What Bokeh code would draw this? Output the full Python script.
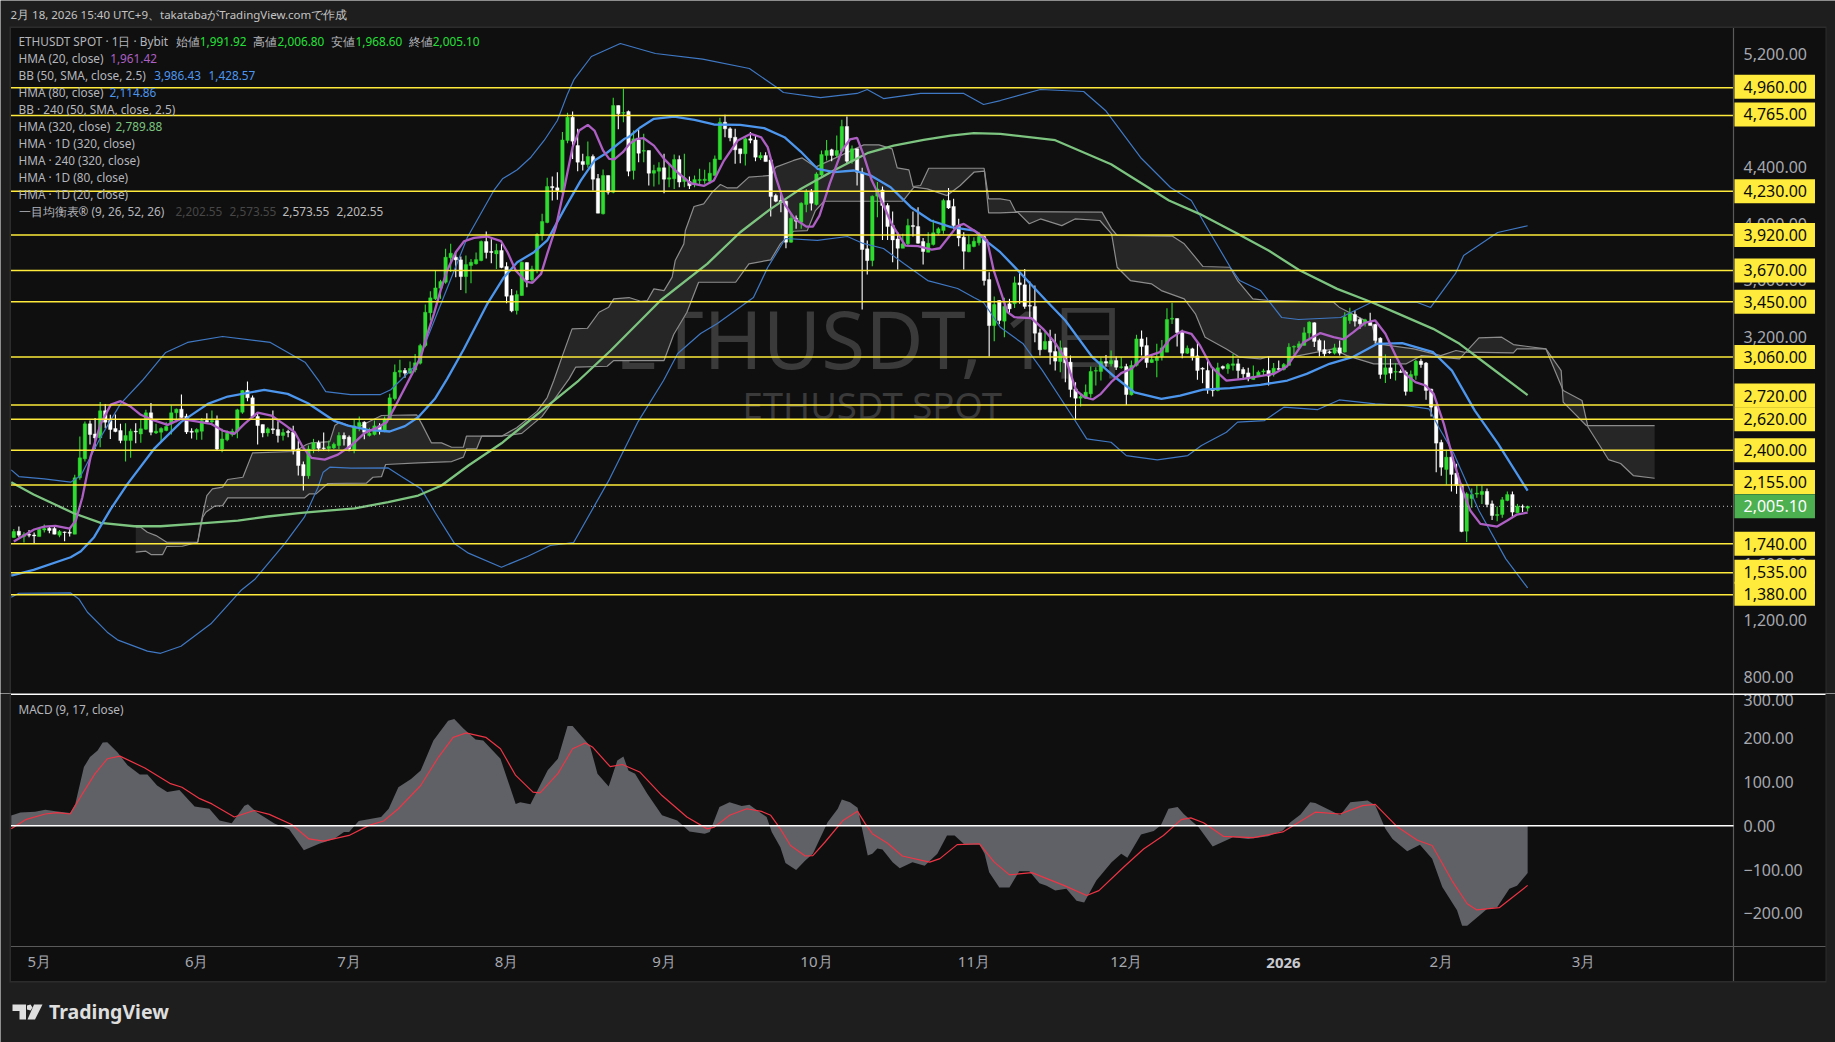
from bokeh.plotting import figure
from bokeh.layouts import column
from bokeh.models import (Range1d, FixedTicker, NumeralTickFormatter, Label, BoxAnnotation,
                          PolyAnnotation, ColumnDataSource)
from bokeh.embed import file_html
from bokeh.resources import INLINE

opens = [1784,1829,1791,1808,1803,1791,1838,1850,1848,1801,
1824,1822,1808,2206,2340,2587,2516,2488,2679,2611,
2554,2540,2469,2469,2535,2516,2549,2665,2523,2528,
2540,2587,2665,2691,2641,2535,2528,2535,2611,2601,
2611,2410,2474,2512,2535,2669,2822,2771,2639,2582,
2523,2552,2547,2505,2533,2528,2410,2300,2220,2410,
2453,2417,2413,2417,2434,2505,2493,2403,2568,2599,
2505,2512,2573,2535,2622,2765,2952,2964,2945,2968,
3015,3140,3371,3470,3545,3587,3760,3764,3745,3627,
3705,3717,3740,3875,3804,3787,3811,3698,3493,3387,
3493,3726,3604,3670,3917,4009,4263,4254,4223,4587,
4752,4552,4440,4418,4475,4319,4070,4341,4223,4835,
4781,4792,4376,4592,4512,4517,4357,4371,4395,4315,
4317,4454,4298,4298,4286,4305,4305,4301,4341,4454,
4717,4670,4611,4529,4494,4600,4592,4465,4482,4451,
4199,4164,4159,3870,4039,4011,4136,4223,4136,4345,
4482,4522,4482,4512,4687,4442,4529,4364,3823,3740,
4195,4239,4129,3987,3893,3827,3858,3987,3980,3875,
3799,3853,3933,3952,4164,4122,3983,3905,3802,3839,
3865,3910,3606,3281,3458,3312,3435,3435,3583,3569,
3423,3416,3230,3114,3171,3098,3027,3124,3023,2834,
2768,2768,2799,2959,2957,3027,3011,3034,2985,2992,
2792,3000,3187,3140,3020,3034,3063,3093,3326,3331,
3239,3086,3117,3067,2980,2964,2834,2822,2992,2976,
3000,3011,2971,2947,2900,2921,2954,2964,2940,2978,
2971,3000,3129,3124,3141,3228,3301,3176,3112,3096,
3086,3124,3094,3317,3359,3324,3301,3305,3289,3192,
2936,2983,2952,2957,2952,2816,2929,3030,3016,2832,
2710,2456,2265,2352,2239,2157,1829,2060,2091,2088,
2110,2022,1940,1947,2046,2088,1959,2004,1991.92]
highs = [1845,1862,1822,1838,1820,1845,1876,1862,1862,1838,
1827,1845,2227,2498,2604,2611,2629,2742,2728,2651,
2653,2587,2592,2552,2592,2622,2686,2735,2587,2563,
2599,2716,2695,2794,2658,2556,2556,2629,2662,2681,
2646,2552,2540,2552,2693,2827,2886,2787,2658,2582,
2563,2681,2606,2552,2545,2573,2469,2321,2434,2481,
2469,2526,2469,2455,2528,2526,2505,2620,2639,2606,
2559,2611,2592,2639,2799,3006,3039,2982,3027,3081,
3152,3430,3524,3674,3604,3823,3858,3799,3769,3776,
3752,3797,3882,3945,3891,3858,3858,3729,3540,3528,
3733,3729,3703,3933,4070,4324,4333,4364,4647,4783,
4792,4670,4494,4581,4489,4352,4383,4341,4889,4835,
4955,4800,4658,4663,4635,4517,4416,4435,4494,4423,
4489,4482,4494,4334,4340,4388,4381,4435,4482,4748,
4769,4682,4670,4529,4611,4647,4623,4505,4505,4458,
4211,4211,4164,4070,4058,4152,4246,4246,4364,4517,
4592,4529,4623,4734,4757,4552,4529,4395,3882,4199,
4294,4263,4145,4086,3940,3929,4035,4086,4117,3900,
3940,4028,3976,4176,4253,4176,4035,3940,3917,3905,
3940,3917,3658,3486,3460,3477,3470,3628,3658,3680,
3592,3564,3258,3234,3251,3223,3176,3124,3070,2881,
2799,2865,2992,2987,3053,3074,3105,3063,3058,3011,
3034,3216,3246,3199,3074,3152,3180,3404,3442,3331,
3251,3140,3124,3171,2987,3034,2987,3018,2999,3016,
3081,3046,2987,2983,2999,2964,2976,3063,3016,3035,
3016,3157,3141,3171,3270,3312,3305,3188,3176,3105,
3152,3176,3376,3407,3388,3336,3329,3371,3294,3199,
3077,3046,3016,2971,2964,2964,3039,3046,3023,2835,
2717,2474,2404,2376,2305,2164,2105,2131,2152,2152,
2131,2046,2004,2070,2110,2110,2022,2018,2006.80]
lows = [1782,1787,1749,1787,1740,1791,1820,1815,1808,1787,
1758,1791,1808,2192,2321,2441,2410,2422,2556,2481,
2528,2450,2321,2347,2450,2453,2545,2507,2516,2465,
2535,2512,2599,2622,2516,2483,2474,2474,2587,2587,
2403,2387,2465,2498,2486,2658,2747,2629,2441,2493,
2498,2516,2455,2469,2493,2370,2222,2116,2199,2380,
2394,2399,2392,2410,2410,2434,2394,2380,2535,2479,
2498,2505,2512,2528,2615,2752,2916,2912,2940,2952,
3006,3128,3317,3462,3470,3576,3660,3623,3533,3510,
3580,3712,3736,3754,3722,3681,3686,3439,3375,3359,
3491,3552,3587,3651,3881,4004,4164,4169,4211,4569,
4458,4371,4376,4395,4235,4075,4065,4206,4216,4668,
4717,4336,4312,4435,4435,4270,4263,4277,4216,4258,
4246,4258,4258,4246,4258,4270,4282,4282,4341,4451,
4611,4583,4423,4428,4411,4569,4442,4451,4439,4051,
4152,4082,3827,3865,3964,3964,4082,4093,4129,4334,
4446,4442,4470,4505,4428,4423,4270,3394,3641,3700,
4046,3886,3886,3728,3677,3827,3846,3910,3858,3712,
3799,3846,3924,3929,4105,3964,3842,3677,3799,3834,
3846,3564,3062,3171,3290,3199,3369,3406,3435,3399,
3340,3164,3070,3110,3006,2964,2952,2881,2775,2622,
2710,2764,2771,2858,2893,2992,2992,2968,2976,2721,
2787,2992,3070,2983,3016,2917,3034,3093,3293,3133,
3051,3081,3034,2898,2874,2799,2780,2818,2971,2940,
2964,2905,2898,2888,2898,2921,2928,2858,2922,2964,
2964,3000,3077,3124,3141,3192,3129,3063,3063,3082,
3077,3070,3091,3294,3275,3258,3275,3282,3152,2905,
2875,2905,2893,2948,2787,2813,2898,2983,2757,2639,
2246,2220,2159,2110,2093,1822,1752,1994,2065,2022,
1999,1909,1900,1924,2041,1928,1957,1964,1968.60]
closes = [1827,1801,1805,1801,1796,1841,1848,1834,1808,1827,
1820,1815,2206,2347,2587,2512,2488,2679,2599,2547,
2533,2469,2505,2535,2530,2552,2665,2528,2535,2554,
2568,2665,2691,2632,2530,2528,2547,2611,2601,2611,
2410,2481,2521,2535,2686,2822,2771,2639,2575,2523,
2552,2545,2505,2526,2526,2403,2293,2220,2410,2453,
2415,2413,2427,2443,2505,2481,2410,2573,2596,2528,
2521,2573,2540,2622,2771,2952,2964,2945,2978,3018,
3140,3375,3477,3547,3592,3764,3792,3745,3627,3712,
3728,3747,3875,3797,3797,3811,3691,3488,3385,3500,
3728,3604,3681,3924,4016,4263,4254,4235,4592,4752,
4583,4435,4418,4475,4315,4075,4341,4223,4835,4776,
4785,4371,4600,4498,4517,4357,4376,4395,4315,4324,
4454,4294,4324,4268,4312,4312,4315,4357,4458,4717,
4670,4607,4522,4494,4600,4590,4470,4482,4439,4192,
4159,4150,3870,4039,4018,4145,4223,4145,4352,4489,
4517,4482,4517,4687,4442,4529,4364,3818,3740,4195,
4246,4129,3980,3886,3827,3858,3987,3980,3863,3804,
3863,3936,3964,4164,4112,3987,3900,3806,3853,3877,
3910,3599,3281,3430,3317,3416,3399,3583,3569,3416,
3418,3227,3110,3169,3093,3030,3124,3018,2830,2768,
2780,2811,2957,2964,3027,3016,3034,2987,2990,2794,
3000,3187,3133,3020,3041,3058,3124,3324,3333,3232,
3086,3121,3058,2964,2973,2827,2822,2983,2980,3006,
3011,2964,2940,2905,2921,2952,2961,2924,2980,2971,
3006,3129,3134,3152,3230,3305,3169,3105,3082,3089,
3124,3086,3341,3364,3312,3294,3322,3282,3176,2936,
2983,2945,2957,2950,2816,2936,3030,3006,2823,2705,
2451,2281,2352,2230,2152,1827,2093,2088,2098,2110,
2018,1940,1947,2051,2088,1964,2006,1999,2005.10]

hma20_x = [0,2,4,6,8.2,11,12.2,13.5,15.1,17.1,19.1,21,23,25,27.6,30.3,32.9,36.2,38.8,41.1,43.4,45.4,48,50.7,53.3,55.3,56.9,58.6,61.2,63.8,66.4,69.1,71.7,73.4,75,
78.4,80.1,81.4,82.7,84,85.3,87,88.6,90.6,93.2,95.9,97.2,98.8,100.8,102.1,103.8,105,106.7,108.4,110,111.3,113,114.3,116,117.2,118.2,119.9,121.2,
122.7,124,126,128,130.6,133.2,135.9,137.8,139.8,142.5,145.1,147.1,148.4,150,151.7,153.7,156,157.3,158.6,160.6,163,164.6,166,167.2,168.9,170.8,172.8,175.5,178,180.7,182.3,184,185.7,187,190,191.6,192.9,
194.2,195.6,197,200.3,202.6,204.9,207.2,209.1,210.8,212.4,214,216,218,220,222.3,225.6,227.6,229.9,231.8,233.5,235.8,238.7,242,
248,250.6,253.9,257.2,259.8,261.8,263.7,266,268,270,272,273.9,275.9,277.9,279.5,281.5,283.4,285,286.7,288.7,292,294,295.9,298]
hma20_y = [1756,1798,1841,1862,1867,1848,1904,2069,2352,2587,2723,2747,2709,2651,2611,2580,2622,2603,2587,2540,2516,2587,2667,2646,2582,2528,2422,2347,2335,2370,2434,2523,2563,2599,2705,
2940,3058,3222,3364,3528,3670,3799,3875,3900,3910,3877,3799,3670,3592,3583,3646,3787,3976,4258,4541,4658,4698,4658,4517,4458,4454,4505,4564,
4600,4604,4552,4458,4364,4286,4268,4305,4446,4588,4635,4611,4541,4329,4141,4035,3980,3980,4058,4282,4517,4595,4607,4494,4305,4164,3999,3846,3842,3818,3827,3905,3983,3999,3929,3882,3670,
3529,3376,3340,3333,3258,3164,3034,2823,2775,2759,2799,2881,2945,2976,3053,3093,3187,3242,3223,3140,2987,2893,2905,
2940,2992,3164,3228,3199,3183,3235,3301,3317,3223,3070,2940,2882,2858,2799,2587,2328,2140,1975,1881,1862,1905,1947,1961]

hma80_x = [-0.5,3.9,11.2,13.2,15.8,19.1,22.4,27.6,32.9,38.2,42.1,49.3,53.9,57.9,63.2,65.8,69.7,74,77,79.6,82.9,85.3,
88.6,93.2,96.5,99.1,102.4,105,108.4,111.6,114.3,116.9,120.2,121,123.4,126,130,134,137.8,143,147.7,151.7,154.9,158.2,161.5,165.4,168.7,172.6,176.6,180.5,184.5,189.1,191.7,
194.2,198,203.2,207,212.3,216.8,220.6,225.9,229.6,234.1,239.4,245.4,250.7,254.5,259,263.5,268.4,273.3,279.4,283.1,287.6,292.2,298]
hma80_y = [1516,1556,1645,1688,1787,1987,2163,2410,2599,2728,2780,2827,2799,2733,2606,2575,2545,2533,2571,2634,2764,2905,
3116,3434,3623,3728,3799,3882,4105,4305,4446,4505,4600,4611,4682,4741,4757,4734,4701,4698,4675,4611,4510,4388,4364,4376,4341,4258,4117,4023,3976,3952,3870,
3799,3658,3458,3317,3058,2916,2810,2763,2787,2829,2839,2862,2893,2940,3011,3058,3152,3157,3093,2963,2681,2446,2115]

hma320_x = [-0.5,3.9,11.8,17.1,23.7,28.9,36.8,44.1,50,56.6,67.1,73.7,79.6,84.2,89.5,96,111.2,117.5,127.3,136.5,143,149,154.9,161.4,168,173.2,179.1,184.4,189,194.2,
205,216,227.4,233.4,240.9,247,253,260.5,267.3,272.6,279.4,284.6,290.7,298]
hma320_y = [2175,2088,1956,1888,1864,1864,1885,1904,1933,1958,1991,2034,2081,2152,2293,2450,2893,3105,3458,3717,3940,4105,4246,4376,4498,4552,4592,4623,4640,4635,
4590,4420,4164,4070,3929,3811,3674,3540,3446,3364,3258,3152,2987,2790]

bb_up_x = [-0.5,1,6,11.2,13.2,17.1,21,25.3,29.9,34.2,41.1,50.5,57.4,60,61.4,66.3,72.2,74.2,76.1,79.4,89.3,94.5,96.2,99.1,101.8,104.4,107,109,110.3,113.7,119.4,126.3,135.6,144.8,150.5,151.5,158.8,166,168,171.2,178.5,187,190.9,194.2,
202.1,210.6,214.9,221.8,227.7,231.8,235.2,239.5,241.3,245.4,249.6,252.9,261.2,267.2,276.3,278.9,283.8,285.4,292.1,298]
bb_up_y = [2262,2215,2199,2175,2222,2493,2728,2893,3091,3162,3204,3162,3020,2893,2815,2794,2794,2828,2893,3011,3905,4235,4317,4381,4470,4588,4729,4917,5020,5181,5273,5202,5163,5096,4955,4927,4891,4920,4948,4884,4920,4920,4842,4870,
4948,4934,4800,4468,4256,4164,3952,3691,3599,3529,3338,3324,3338,3444,3444,3409,3649,3776,3938,3986]

bb_lo_x = [-0.5,1,11.2,12.8,14.5,18.4,20.4,26.3,28.9,32.9,38.8,44.7,47.4,53.3,57.2,59.9,60.9,62.2,66.4,73.7,76.3,80.2,82.9,86.8,89.5,96,101.1,105.6,110.2,117.1,122.9,127.9,130.7,135.2,138.5,145.6,148.4,151.9,158.2,164.1,167.2,171.2,175.2,179.9,185.8,189,190.9,
194.2,198.7,202.5,208.5,211.2,216,219,225.1,231.1,233.8,238.7,240.9,246.2,250,256.7,260.9,268,274.1,278.6,280.5,283.5,288.4,293.7,298]
bb_lo_y = [1363,1391,1393,1351,1257,1116,1062,982,967,1017,1175,1410,1488,1740,1928,2140,2246,2281,2274,2276,2215,2128,1963,1740,1674,1575,1650,1728,1749,2186,2603,2893,3084,3225,3296,3479,3691,3896,3882,3910,3861,3825,3719,3599,3543,3479,3444,
3269,3152,2963,2634,2481,2457,2363,2333,2363,2434,2528,2599,2610,2705,2688,2756,2728,2716,2693,2563,2375,1975,1634,1429]

span_a_x = [24,25,26.3,28,30.1,36.2,36.8,38,39.1,41.1,42.1,45.1,47,55.3,57.6,58.6,62.2,63.2,64.1,67.4,69.7,72.4,79.3,80.3,82.2,84.2,86.2,88.5,89.1,96,99,103,105,
106.3,107.9,109.9,112.9,115.2,117.1,118.1,121.1,123.4,124.7,126,128,129.6,130.2,131.9,132.2,133.9,135.8,137.5,139.1,140.4,142.4,144.7,149,150,153.5,155.2,157.8,167.3,170.3,172.9,173.9,176.2,177,178.5,180.1,191,191.9,194.2,
196.1,197.2,214.2,216.1,217.2,228.1,230.4,234.1,239.4,240.9,243.9,247,259.8,260.9,267.3,268.4,275.6,280.9,283.9,285.4,295.2,295.9,301.6,304.6,305,309.6,323]
span_a_y = [1857,1857,1822,1798,1751,1751,1881,2081,2128,2140,2194,2210,2382,2392,2441,2453,2462,2575,2599,2556,2599,2646,2651,2587,2453,2453,2422,2422,2500,2500,2560,2675,2773,
2893,3058,3258,3262,3375,3411,3470,3479,3453,3458,3540,3528,3623,3740,3858,3952,4122,4140,4223,4277,4254,4254,4329,4341,4400,4447,4465,4400,4557,4557,4529,4395,4380,4263,4270,4392,4392,4176,4176,
4164,4086,4082,3964,3917,3912,3858,3698,3693,3599,3470,3458,3446,3411,3293,3152,3116,3069,3105,3093,3088,3116,3116,2963,2740,2574,2574]
span_b_x = [24,26,27,29.3,30.1,33.2,36.2,37.2,37.8,39.5,41.1,42.1,57.2,58.2,59.5,61.8,69.4,70.7,72.4,73.2,79.6,86.2,88.5,89.1,91.1,92.1,96,100,104,107,
109.3,110.6,116.8,118.1,128,129.9,132.5,134.8,142.1,144.7,149,150.9,153.5,156.2,157.8,159.5,175,177.2,179.8,183.7,186.3,189,191.1,191.9,194.2,
197.6,199.9,202.1,206.3,208.9,213.8,216.1,217.2,219.8,224,225.9,230.4,232.6,234.5,238.7,241.3,245.4,247,251.5,259.8,262.4,267.7,274.1,277.1,284.6,288.4,292.9,295.2,301.6,305,308.7,309.9,312.4,313.9,316.3,318.8,323]
span_b_y = [1681,1688,1664,1664,1721,1723,1751,1928,1963,2006,2010,2064,2064,2093,2093,2166,2168,2210,2215,2300,2312,2321,2352,2410,2410,2500,2500,2520,2640,2790,
2905,2987,2994,3034,3034,3218,3375,3587,3587,3717,3745,3858,3947,3952,4093,4159,4159,4258,4246,4199,4270,4364,4371,4077,4077,
4082,4000,4034,3987,4034,4023,3929,3693,3599,3575,3528,3470,3364,3199,3116,3058,3046,3062,3058,3116,3069,3011,3011,3069,3046,3194,3199,3147,3116,2822,2752,2563,2422,2335,2307,2222,2203]

macd_x = [-0.5,1.3,4.2,6.2,8.2,11.1,12.1,13.8,15,16.5,17.5,18.4,20.4,22.4,24.8,26.3,28.2,30.2,32.6,35.6,38.5,40.5,42.9,45.4,46.1,47.8,51.3,54.2,57.1,60.1,63,65,66,67.9,72.3,73.8,75.7,78.2,80.1,82.6,85.5,86.7,88.5,90.9,92.4,95.8,98.8,99.7,101.7,105.1,107.1,109,110,113.4,114.9,117.1,118.8,120,121,122.3,124.7,127.6,130.6,133,136,137,138.9,140.9,143.3,144.8,148.2,149.2,150.9,
151.9,154,155.8,157.3,160.2,162.2,163,164.6,166.1,168.1,169,170,171,173,174.4,176.9,179.3,181.8,183.7,185.2,187.2,190.1,191.1,192,194,196,197.9,199.9,201.9,203.3,205,207.2,209.2,210.7,213.1,216.1,218,219.2,221.9,224.4,225.8,227.3,229.1,230.3,233.2,236,240,243,246.9,249.8,251.3,253.3,255.2,256.2,261.1,263.1,266.5,268,270,271.4,274.3,276.8,279.2,281.2,284.1,285.1,286.1,288.5,290,292,294.4,295.9,298]
macd_y = [23.6,30.4,32,36.5,33.5,29,50,134,157,172,190,191,168,138,117,117,92,77,82,44,39,12,6,46,49,31,5,-8,-56,-41,-30,-14,-14,11,20,39,88,107,126,195,240,244,222,197,195,153,50,54,49,127,153,228,228,183,119,90,149,158,126,119,73,24,12,-13,-18,-14,43,54,45,48,20,-14,-49,
-85,-101,-79,-64,8,39,60,54,41,-68,-64,-52,-54,-83,-97,-83,-91,-64,-22,-22,-43,-43,-64,-106,-141,-141,-104,-104,-131,-137,-148,-144,-171,-175,-125,-83,-64,-73,-20,-12,1,39,43,27,-3,-47,-26,-30,-24,-11,8,26,54,52,24,54,58,47,-7,-30,-58,-43,-75,-140,-193,-228,-228,-205,-190,-186,-144,-137,-108]
signal_x = [-0.5,2.3,6.2,8.6,11.1,13.5,16,18.4,20.9,25.8,30.7,33.1,36.6,39,43.4,47.3,50.3,54.7,58.1,61,66,69.9,72.8,75.7,80.1,83.6,86.5,89,92.9,95.8,98.8,102.2,103.6,107.1,110,112.5,113.9,117.4,119.8,123.2,127.6,132.5,136.5,137.9,140.9,144.3,147.2,
149,150.9,152.9,155.8,157.3,159.7,163.2,166.1,167.6,169,172,174.9,180.3,182.3,185.7,190.1,193,196,200.4,206.7,211.2,213.6,218.5,222.4,226.3,229.8,231.7,234.2,238.1,244,249.8,256.2,261.1,265.5,268,272.4,276.3,279.2,283.1,286.1,288,292.4,298]
signal_y = [-7,14,27,30,27,73,119,153,159,132,97,88,62,50,20,35,26,3,-30,-35,-22,1,11,39,92,157,202,212,202,176,115,77,75,119,176,189,180,135,140,123,69,20,-7,-3,24,39,33,
24,-7,-45,-69,-68,-37,12,33,5,-18,-40,-69,-83,-75,-43,-41,-83,-112,-107,-136,-159,-148,-94,-53,-22,14,18,7,-24,-27,-14,31,27,46,49,-3,-33,-45,-125,-178,-192,-187,-136]

levels = [4960,4765,4230,3920,3670,3450,3060,2720,2620,2400,2155,1740,1535,1380]
last_price = 2005.10
price_ticks = [800,1200,1600,2000,2400,2800,3200,3600,4000,4400,4800,5200]
macd_ticks = [-200,-100,0,100,200,300]
month_ticks = [5,36,66,97,128,158,189,219,250,281,309]
month_labels = ["5月","6月","7月","8月","9月","10月","11月","12月","2026","2月","3月"]

BG = "#1e1e1e"; PANE = "#0f0f0f"; EDGE = "#2c2c2c"; AXIS = "#5a5a5a"
GREEN = "#2fdc30"; YELLOW = "#ffeb3b"; TXT = "#b4b6bc"; FONT = "Noto Sans"

# page pixel <-> data helpers (layout only)
X0 = 13.3; DX = 5.08
def sx(px): return (px - X0) / DX
def sy(py): return 5576.4 - 7.061 * py
def sy2(py): return (825.3 - py) / 0.438

xr = Range1d(sx(0), sx(1835))
common = dict(width=1835, x_range=xr, output_backend="svg", toolbar_location=None, y_axis_location="right",
              min_border_left=0, min_border_right=0, min_border_top=0, min_border_bottom=0,
              background_fill_color=BG, border_fill_color=BG, outline_line_color=None)
p1 = figure(height=693, y_range=Range1d(sy(693), sy(0)), x_axis_location=None, **common)
p2 = figure(height=349, y_range=Range1d(sy2(1042), sy2(693)), **common)

for p in (p1, p2):
    p.grid.visible = False
    ax = p.yaxis[0]
    ax.major_tick_line_color = None; ax.minor_tick_line_color = None
    ax.axis_line_color = None
    ax.major_label_text_color = "#a6a8b0"; ax.major_label_text_font = FONT
    ax.major_label_text_font_size = "16px"; ax.major_label_standoff = 4
    ax.fixed_location = sx(1733)
p1.yaxis[0].ticker = FixedTicker(ticks=price_ticks)
p1.yaxis[0].formatter = NumeralTickFormatter(format="0,0.00")
p2.yaxis[0].ticker = FixedTicker(ticks=macd_ticks)
p2.yaxis[0].major_label_overrides = {t: (f"{t:.2f}" if t >= 0 else f"\u2212{-t:.2f}") for t in macd_ticks}
xa = p2.xaxis[0]
xa.ticker = FixedTicker(ticks=month_ticks)
xa.major_label_overrides = {t: ("" if l == "2026" else l) for t, l in zip(month_ticks, month_labels)}
xa.major_tick_line_color = None; xa.minor_tick_line_color = None
xa.axis_line_color = None
xa.major_label_text_color = "#a6a8b0"; xa.major_label_text_font = FONT
xa.major_label_text_font_size = "15px"; xa.major_label_standoff = -2
xa.fixed_location = sy2(946)

def band(p, conv, left, right, top, bottom, color, level="underlay"):
    p.add_layout(BoxAnnotation(left=sx(left), right=sx(right), top=conv(top), bottom=conv(bottom),
                               fill_color=color, fill_alpha=1, line_color=None, level=level))

# pane backgrounds
band(p1, sy, 9, 1826, 26, 693, EDGE); band(p1, sy, 10.5, 1825, 27.5, 693, PANE)
band(p2, sy2, 9, 1826, 693, 982, EDGE); band(p2, sy2, 10.5, 1825, 693, 980.5, PANE)

# watermark
p1.add_layout(Label(x=sx(614), y=sy(337), text="ETHUSDT, 1日", text_font=FONT, text_font_size="80px",
                    text_color="#3a3a3a", text_baseline="middle", level="underlay"))
p1.add_layout(Label(x=sx(742), y=sy(404), text="ETHUSDT SPOT", text_font=FONT, text_font_size="36.5px",
                    text_color="#3a3a3a", text_baseline="middle", level="underlay"))

# cloud
p1.patch(span_a_x + span_b_x[::-1], span_a_y + span_b_y[::-1], fill_color="#262626", line_color=None)
p1.line(span_a_x, span_a_y, line_color="#8c8c8c", line_width=1.2)
p1.line(span_b_x, span_b_y, line_color="#8c8c8c", line_width=1.2)

# candles
idx = list(range(len(closes)))
colors = [GREEN if c >= o else "#ffffff" for o, c in zip(opens, closes)]
src = ColumnDataSource(dict(x=idx, o=opens, h=highs, l=lows, c=closes, col=colors))
p1.segment("x", "h", "x", "l", source=src, line_color="col", line_width=1.1)
p1.vbar("x", 0.68, "o", "c", source=src, fill_color="col", line_color="col", line_width=0.4)

# indicators
p1.line(bb_up_x, bb_up_y, line_color="#3f78c4", line_width=1.2)
p1.line(bb_lo_x, bb_lo_y, line_color="#3f78c4", line_width=1.2)
p1.line(hma320_x, hma320_y, line_color="#7cc47f", line_width=2.3)
p1.line(hma80_x, hma80_y, line_color="#4d96ee", line_width=2.3)
p1.line(hma20_x, hma20_y, line_color="#ad5fc3", line_width=2.3)

# horizontal levels and axis rules
x_l, x_r = sx(10.5), sx(1733)
p1.segment([x_l] * len(levels), levels, [x_r] * len(levels), levels, line_color=YELLOW, line_width=1.5)
p1.segment([x_l], [last_price], [x_r], [last_price], line_color="#c8c8c8", line_width=1, line_dash="1 3")
p1.segment([x_r], [sy(27.5)], [x_r], [sy(693)], line_color=AXIS, line_width=1.2)
p2.segment([x_r], [sy2(693)], [x_r], [sy2(980.5)], line_color=AXIS, line_width=1.2)
p2.segment([x_l], [sy2(946)], [sx(1825)], [sy2(946)], line_color=AXIS, line_width=1.2)

# price badges; some are nudged so that neighbours do not cover each other
nudge = {2720: 9.5, 2155: 3, 1535: 1, 1380: 1, 4960: 1, 4765: 1}
def badge(v, txt, fill, tcol):
    p1.add_layout(Label(x=sx(1734), y=v, y_offset=nudge.get(v, 0), text=txt, text_font=FONT,
                        text_font_size="16px", text_color=tcol, anchor="center_left",
                        background_fill_color=fill, background_fill_alpha=1, padding=(9, 8, 6, 6)))
for v in levels:
    badge(v, f"{v:,.2f}", YELLOW, "#0a0a0a")
badge(last_price, f"{last_price:,.2f}", "#4caf50", "#ffffff")

# legend
def txt(p, conv, px, py, s, color=TXT, size="11.8px", weight="normal"):
    p.add_layout(Label(x=sx(px), y=conv(py), text=s, text_font=FONT, text_font_size=size, text_color=color,
                       text_baseline="middle", text_font_style=weight))
ROW = [40.7 + 17 * k for k in range(11)]
txt(p1, sy, 10, 14, "2月 18, 2026 15:40 UTC+9、takatabaがTradingView.comで作成", "#c4c4c4", "11.5px")
txt(p1, sy, 18, ROW[0], "ETHUSDT SPOT · 1日 · Bybit")
for a, b, lab, val in [(175, 199.3, "始値", "1,991.92"), (252.7, 277, "高値", "2,006.80"),
                       (330.7, 355, "安値", "1,968.60"), (408.3, 432.3, "終値", "2,005.10")]:
    txt(p1, sy, a, ROW[0], lab); txt(p1, sy, b, ROW[0], val, "#26e03a")
txt(p1, sy, 18, ROW[1], "HMA (20, close)"); txt(p1, sy, 109.7, ROW[1], "1,961.42", "#ad5fc3")
txt(p1, sy, 18, ROW[2], "BB (50, SMA, close, 2.5)")
txt(p1, sy, 153.7, ROW[2], "3,986.43", "#4d96ee"); txt(p1, sy, 208, ROW[2], "1,428.57", "#4d96ee")
txt(p1, sy, 18, ROW[3], "HMA (80, close)"); txt(p1, sy, 109, ROW[3], "2,114.86", "#4d96ee")
txt(p1, sy, 18, ROW[4], "BB · 240 (50, SMA, close, 2.5)")
txt(p1, sy, 18, ROW[5], "HMA (320, close)"); txt(p1, sy, 115, ROW[5], "2,789.88", "#7cc47f")
txt(p1, sy, 18, ROW[6], "HMA · 1D (320, close)")
txt(p1, sy, 18, ROW[7], "HMA · 240 (320, close)")
txt(p1, sy, 18, ROW[8], "HMA · 1D (80, close)")
txt(p1, sy, 18, ROW[9], "HMA · 1D (20, close)")
txt(p1, sy, 18, ROW[10], "一目均衡表® (9, 26, 52, 26)")
txt(p1, sy, 175, ROW[10], "2,202.55", "#474747"); txt(p1, sy, 229, ROW[10], "2,573.55", "#474747")
txt(p1, sy, 282, ROW[10], "2,573.55", "#bdbdbd"); txt(p1, sy, 336, ROW[10], "2,202.55", "#bdbdbd")

# MACD
p2.varea(macd_x, [0] * len(macd_x), macd_y, fill_color="#5f6166")
p2.line(signal_x, signal_y, line_color="#ee3545", line_width=1.2)
p2.segment([x_l], [0], [x_r], [0], line_color="#ffffff", line_width=1.5)
txt(p2, sy2, 18, 708, "MACD (9, 17, close)")
band(p2, sy2, 10.5, 1825, 693, 694.6, "#ffffff", level="overlay")
p2.add_layout(Label(x=sx(1283), y=sy2(962), text="2026", text_font=FONT, text_font_size="15px", text_align="center",
                    text_color="#c8cad0", text_baseline="middle", text_font_style="bold"))

# TradingView logo
def poly(pts):
    p2.add_layout(PolyAnnotation(xs=[sx(a) for a, b in pts], ys=[sy2(b) for a, b in pts],
                                 fill_color="#dedede", fill_alpha=1, line_color=None))
poly([(12, 1004), (25.5, 1004), (25.5, 1019), (19, 1019), (19, 1010.5), (12, 1010.5)])
poly([(33.5, 1004), (42, 1004), (34.5, 1019), (27, 1019)])
poly([(26.5, 1005), (30, 1004), (32, 1007), (30, 1010), (26.5, 1009)])
txt(p2, sy2, 48.5, 1011, "TradingView", "#dedede", "19.5px", "bold")

layout = column(p1, p2, spacing=0)
open("out.html", "w").write(file_html(layout, INLINE))
